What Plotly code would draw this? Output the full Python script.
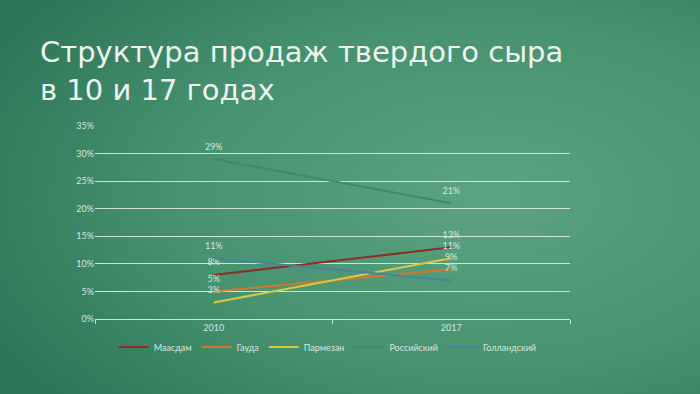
import plotly.graph_objects as go
import urllib.parse

years = ["2010", "2017"]
series_names = ["Маасдам", "Гауда", "Пармезан", "Российский", "Голландский"]
maasdam = [8, 13]
gauda = [5, 9]
parmezan = [3, 11]
rossiyskiy = [29, 21]
gollandskiy = [11, 7]
colors = ["#8e2b22", "#d4772e", "#d9c843", "#3e8a68", "#4d7f9e"]

values = [maasdam, gauda, parmezan, rossiyskiy, gollandskiy]

svg = ("<svg xmlns='http://www.w3.org/2000/svg' width='700' height='394'>"
       "<defs><radialGradient id='g' cx='0.7' cy='0.5' r='0.8'>"
       "<stop offset='0' stop-color='#5ca382'/>"
       "<stop offset='0.55' stop-color='#47926f'/>"
       "<stop offset='1' stop-color='#2d7657'/>"
       "</radialGradient></defs>"
       "<rect width='700' height='394' fill='url(#g)'/></svg>")
bg_uri = "data:image/svg+xml;charset=utf-8," + urllib.parse.quote(svg)

PW, PH = 475, 193
fig = go.Figure()
for name, vals, col in zip(series_names, values, colors):
    fig.add_trace(go.Scatter(
        x=years, y=vals, name=name, mode="lines+markers+text",
        line=dict(color=col, width=2),
        marker=dict(size=10, color="rgba(0,0,0,0)"),
        text=[f"{v}%" for v in vals], textposition="top center",
        textfont=dict(size=9, color="#d6e8df", family="Lato"),
        cliponaxis=False,
    ))

fig.update_layout(
    width=700, height=394,
    margin=dict(l=95, r=130, t=126, b=75),
    paper_bgcolor="#44906f",
    plot_bgcolor="rgba(0,0,0,0)",
    images=[dict(source=bg_uri, xref="paper", yref="paper", x=-95/PW, y=1+126/PH,
                 sizex=700/PW, sizey=394/PH, xanchor="left", yanchor="top",
                 sizing="stretch", layer="below")],
    showlegend=True,
    legend=dict(orientation="h", x=0.49, xanchor="center", y=-0.07, yanchor="top",
                font=dict(size=9, color="#d6e8df", family="Lato"),
                bgcolor="rgba(0,0,0,0)", itemwidth=30, tracegroupgap=0),
    font=dict(family="Lato", color="#d6e8df"),
    hovermode=False,
)
fig.add_annotation(
    text="Структура продаж твердого сыра<br>в 10 и 17 годах",
    xref="paper", yref="paper", x=-95/PW + 38/PW, y=1 + 126/PH - 33/PH,
    xanchor="left", yanchor="top", align="left", showarrow=False,
    font=dict(size=29, color="#eef5f1", family="DejaVu Sans"),
)
fig.update_xaxes(
    type="category", range=[-0.5, 1.5], showgrid=False,
    showline=True, linecolor="#cfe4d9", linewidth=1,
    ticks="outside", tickson="boundaries", ticklen=4, tickcolor="#cfe4d9",
    tickfont=dict(size=9, color="#d6e8df"), zeroline=False,
)
fig.update_yaxes(
    range=[0, 35], dtick=5, ticksuffix="%", showgrid=True,
    gridcolor="#cfe4d9", gridwidth=1, zeroline=False, showline=False,
    tickfont=dict(size=9, color="#d6e8df"), ticks="",
)
fig.write_html("out.html", config={"displayModeBar": False, "staticPlot": True},
               post_script="document.body.style.margin='0';document.body.style.overflow='hidden';")
